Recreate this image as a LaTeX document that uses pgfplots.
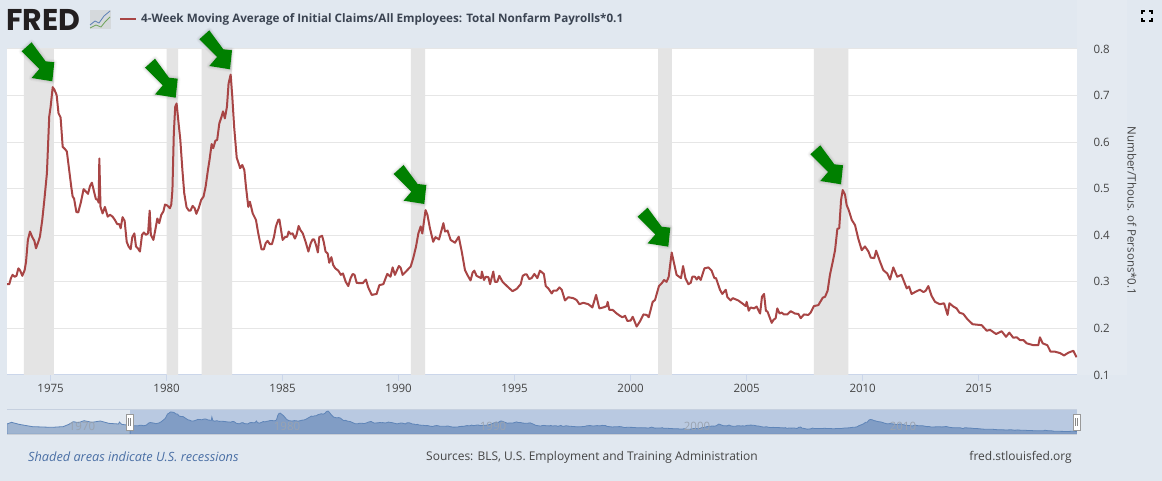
\documentclass[border=0pt]{standalone}
\usepackage{pgfplots}
\usepackage{pgfplotstable}
\usepackage{fontspec}
\pgfplotsset{compat=1.18}
\setmainfont{Open Sans}
\newfontfamily\logofont{Poppins}
\definecolor{bgc}{HTML}{E1E8F0}
\definecolor{txt}{HTML}{444444}
\definecolor{ln}{HTML}{A84545}
\definecolor{axc}{HTML}{CBD6EA}
\definecolor{rec}{HTML}{E4E4E4}
\definecolor{gridc}{HTML}{E6E6E6}
\definecolor{navsel}{HTML}{B9C9E1}
\definecolor{navpre}{HTML}{9FB4D0}
\definecolor{navmain}{HTML}{819DC5}
\definecolor{navln}{HTML}{5F85B8}
\definecolor{navtxt}{HTML}{9AA3B0}
\definecolor{navtop}{HTML}{C6D0DF}
\definecolor{navbot}{HTML}{C9CED6}
\definecolor{hbord}{HTML}{999999}
\definecolor{hgrip}{HTML}{888888}
\definecolor{arrowg}{HTML}{008000}
\definecolor{logo}{HTML}{231F20}
\definecolor{iconbg}{HTML}{D5D9DC}
\definecolor{iconb}{HTML}{5B7FB5}
\definecolor{icong}{HTML}{6FA35A}
\definecolor{titlec}{HTML}{3B4452}
\definecolor{notec}{HTML}{4A6FA5}
\pgfplotstableread{
yr v
1973.13 .295
1973.22 .295
1973.29 .308
1973.36 .315
1973.45 .311
1973.53 .313
1973.61 .329
1973.68 .325
1973.78 .313
1973.88 .325
1973.94 .343
1974.02 .390
1974.11 .408
1974.21 .396
1974.30 .388
1974.37 .372
1974.47 .386
1974.54 .397
1974.64 .433
1974.73 .476
1974.84 .533
1974.94 .655
1975.00 .676
1975.09 .718
1975.16 .713
1975.26 .701
1975.34 .662
1975.43 .653
1975.52 .590
1975.62 .585
1975.70 .580
1975.80 .540
1975.89 .504
1975.95 .483
1976.01 .479
1976.11 .450
1976.19 .449
1976.31 .472
1976.42 .499
1976.52 .494
1976.61 .489
1976.70 .506
1976.78 .513
1976.87 .494
1976.95 .478
1977.03 .476
1977.07 .470
1977.10 .565
1977.15 .461
1977.24 .447
1977.34 .461
1977.46 .440
1977.56 .444
1977.67 .440
1977.77 .433
1977.87 .424
1977.96 .424
1978.02 .415
1978.10 .439
1978.19 .431
1978.28 .386
1978.36 .376
1978.45 .370
1978.52 .396
1978.61 .404
1978.68 .376
1978.76 .372
1978.85 .365
1978.94 .401
1979.02 .406
1979.11 .401
1979.20 .404
1979.27 .453
1979.32 .401
1979.43 .390
1979.51 .411
1979.60 .436
1979.68 .426
1979.77 .444
1979.86 .451
1979.93 .466
1980.03 .464
1980.14 .458
1980.20 .466
1980.25 .497
1980.31 .619
1980.37 .676
1980.43 .683
1980.50 .648
1980.59 .605
1980.68 .540
1980.76 .490
1980.86 .460
1980.96 .453
1981.03 .453
1981.12 .463
1981.21 .458
1981.28 .446
1981.38 .458
1981.49 .476
1981.59 .483
1981.68 .504
1981.78 .540
1981.85 .562
1981.94 .596
1982.01 .587
1982.10 .603
1982.18 .605
1982.27 .640
1982.37 .655
1982.43 .666
1982.51 .651
1982.60 .676
1982.67 .726
1982.76 .745
1982.83 .698
1982.91 .633
1983.02 .567
1983.10 .555
1983.17 .544
1983.26 .551
1983.35 .540
1983.42 .504
1983.52 .461
1983.59 .472
1983.71 .447
1983.85 .433
1983.95 .404
1984.09 .370
1984.19 .370
1984.27 .383
1984.35 .388
1984.45 .381
1984.54 .381
1984.63 .397
1984.71 .419
1984.81 .433
1984.86 .434
1985.00 .390
1985.10 .396
1985.20 .397
1985.26 .408
1985.34 .403
1985.43 .404
1985.53 .393
1985.60 .401
1985.69 .420
1985.77 .411
1985.87 .404
1985.99 .386
1986.11 .365
1986.21 .383
1986.29 .391
1986.36 .391
1986.44 .379
1986.52 .363
1986.58 .396
1986.70 .399
1986.77 .386
1986.85 .365
1986.94 .361
1987.01 .341
1987.10 .353
1987.18 .336
1987.27 .329
1987.40 .324
1987.51 .315
1987.60 .318
1987.72 .300
1987.83 .291
1987.93 .308
1988.02 .317
1988.10 .315
1988.19 .298
1988.33 .297
1988.45 .297
1988.59 .305
1988.69 .288
1988.84 .272
1989.05 .274
1989.17 .293
1989.34 .295
1989.51 .317
1989.65 .311
1989.74 .331
1989.84 .315
1990.01 .334
1990.09 .330
1990.17 .315
1990.35 .324
1990.52 .333
1990.63 .351
1990.75 .376
1990.85 .404
1990.95 .419
1991.02 .404
1991.16 .454
1991.24 .444
1991.35 .415
1991.49 .386
1991.59 .396
1991.74 .391
1991.85 .411
1991.93 .426
1992.00 .408
1992.11 .410
1992.24 .390
1992.43 .384
1992.59 .397
1992.72 .365
1992.86 .325
1992.96 .315
1993.10 .303
1993.19 .320
1993.26 .324
1993.36 .313
1993.55 .308
1993.59 .322
1993.68 .304
1993.76 .311
1993.87 .310
1993.94 .295
1994.08 .322
1994.15 .300
1994.25 .300
1994.34 .313
1994.48 .300
1994.73 .288
1994.91 .280
1995.09 .285
1995.26 .295
1995.35 .313
1995.45 .316
1995.52 .316
1995.63 .306
1995.73 .308
1995.85 .317
1995.98 .308
1996.09 .324
1996.26 .317
1996.34 .291
1996.45 .286
1996.60 .275
1996.67 .281
1996.81 .281
1996.93 .288
1997.03 .283
1997.17 .260
1997.31 .267
1997.53 .265
1997.67 .261
1997.79 .252
1997.96 .255
1998.18 .252
1998.35 .245
1998.51 .272
1998.65 .243
1998.82 .245
1998.97 .248
1999.01 .257
1999.08 .240
1999.22 .240
1999.40 .232
1999.54 .227
1999.64 .224
1999.76 .227
1999.86 .216
2000.00 .217
2000.09 .225
2000.26 .204
2000.40 .215
2000.55 .230
2000.69 .229
2000.78 .224
2000.95 .257
2001.05 .261
2001.22 .291
2001.34 .297
2001.44 .304
2001.55 .300
2001.64 .311
2001.77 .363
2001.87 .340
2001.98 .315
2002.17 .308
2002.26 .334
2002.36 .308
2002.49 .295
2002.59 .298
2002.66 .311
2002.77 .311
2002.85 .305
2002.93 .311
2003.02 .304
2003.18 .329
2003.35 .331
2003.49 .324
2003.61 .308
2003.68 .308
2003.85 .283
2003.95 .274
2004.10 .283
2004.17 .267
2004.31 .260
2004.40 .265
2004.64 .260
2004.86 .252
2004.96 .248
2005.00 .257
2005.09 .238
2005.17 .245
2005.32 .243
2005.43 .247
2005.58 .232
2005.66 .268
2005.75 .274
2005.83 .238
2005.90 .236
2006.08 .212
2006.15 .218
2006.25 .222
2006.32 .243
2006.42 .232
2006.51 .234
2006.61 .230
2006.75 .230
2006.90 .237
2007.08 .232
2007.23 .231
2007.33 .222
2007.47 .230
2007.66 .229
2007.76 .234
2007.90 .248
2008.09 .250
2008.28 .266
2008.38 .268
2008.49 .281
2008.59 .315
2008.71 .343
2008.81 .368
2008.91 .414
2008.99 .415
2009.07 .476
2009.14 .497
2009.24 .487
2009.31 .465
2009.40 .454
2009.53 .433
2009.67 .422
2009.81 .393
2009.96 .368
2010.10 .376
2010.25 .365
2010.35 .352
2010.50 .351
2010.58 .367
2010.75 .343
2010.89 .325
2011.06 .318
2011.18 .305
2011.32 .331
2011.49 .311
2011.67 .315
2011.90 .286
2012.00 .290
2012.11 .274
2012.33 .280
2012.47 .283
2012.62 .278
2012.72 .281
2012.83 .291
2012.97 .270
2013.12 .257
2013.33 .252
2013.51 .254
2013.66 .229
2013.74 .254
2013.91 .247
2014.05 .243
2014.17 .234
2014.34 .231
2014.51 .220
2014.74 .209
2015.13 .207
2015.35 .195
2015.49 .197
2015.75 .188
2015.99 .194
2016.18 .182
2016.32 .191
2016.49 .180
2016.64 .181
2016.78 .175
2016.93 .175
2017.07 .168
2017.36 .164
2017.57 .164
2017.64 .181
2017.76 .168
2017.96 .164
2018.10 .150
2018.29 .150
2018.51 .147
2018.68 .142
2018.87 .148
2019.08 .152
2019.22 .138
}\maindata
\pgfplotstableread{
yr v
1967.13 .364
1967.35 .413
1967.72 .354
1968.09 .315
1968.37 .286
1968.84 .276
1969.30 .266
1969.86 .286
1970.14 .354
1970.36 .432
1970.61 .403
1970.88 .462
1971.26 .413
1971.67 .452
1972.09 .383
1972.56 .364
1972.60 .422
1972.71 .354
1973.13 .320
}\predata
% arrow with its tip at px (x, y from the top of the picture)
\newcommand{\greenarrow}[2]{%
  \begin{scope}[shift={(#1,481-#2)},x=1pt,y=1pt]
    \foreach \w/\o in {6/.025,4/.035,2/.05}{
      \draw[black,line width=\w pt,opacity=\o,line join=round]
       (0,0)--(2,19)--(-6.7,20)--(-20.7,39)--(-30.7,30)--(-13,12.3)--(-20.7,3.3)--cycle;}
    \fill[arrowg]
       (0,0)--(2,19)--(-6.7,20)--(-20.7,39)--(-30.7,30)--(-13,12.3)--(-20.7,3.3)--cycle;
  \end{scope}}
\begin{document}
\begin{tikzpicture}[x=1pt,y=1pt]
\useasboundingbox (0,0) rectangle (1162,481);
\fill[bgc] (0,0) rectangle (1162,481);
\fill[white,opacity=.12] (1077,106) rectangle (1127,481);
% main chart
\begin{axis}[
  at={(7pt,106pt)},anchor=south west,scale only axis,width=1070pt,height=326pt,
  xmin=1973.12,xmax=2019.24,ymin=.1,ymax=.8,
  axis background/.style={fill=white},
  axis x line=bottom,axis y line=right,
  axis line style={-},
  x axis line style={draw=axc,line width=1pt},
  y axis line style={draw=none},
  xtick={1975,1980,1985,1990,1995,2000,2005,2010,2015},
  ytick={.1,.2,.3,.4,.5,.6,.7,.8},
  tick align=outside,major tick length=6pt,
  x tick style={draw=axc,line width=1pt},
  y tick style={draw=none},
  ymajorgrids,grid style={draw=gridc,line width=1pt},
  /pgf/number format/assume math mode=true,
  x tick label style={/pgf/number format/1000 sep={},font=\fontsize{11.5}{13}\selectfont,text=txt},
  y tick label style={/pgf/number format/fixed,/pgf/number format/fixed zerofill,/pgf/number format/precision=1,font=\fontsize{11.5}{13}\selectfont,text=txt,xshift=7pt},
]
\addplot[fill=rec,draw=none] coordinates {(1973.85,.1)(1973.85,.8)(1975.14,.8)(1975.14,.1)} \closedcycle;
\addplot[fill=rec,draw=none] coordinates {(1980.0,.1)(1980.0,.8)(1980.50,.8)(1980.50,.1)} \closedcycle;
\addplot[fill=rec,draw=none] coordinates {(1981.51,.1)(1981.51,.8)(1982.82,.8)(1982.82,.1)} \closedcycle;
\addplot[fill=rec,draw=none] coordinates {(1990.53,.1)(1990.53,.8)(1991.14,.8)(1991.14,.1)} \closedcycle;
\addplot[fill=rec,draw=none] coordinates {(2001.18,.1)(2001.18,.8)(2001.78,.8)(2001.78,.1)} \closedcycle;
\addplot[fill=rec,draw=none] coordinates {(2007.90,.1)(2007.90,.8)(2009.38,.8)(2009.38,.1)} \closedcycle;
\addplot[color=ln,line width=2pt,line join=round] table[x=yr,y=v] {\maindata};
\end{axis}
% navigator
\fill[navsel] (130,46.7) rectangle (1077,71.7);
\begin{axis}[
  at={(7pt,46.7pt)},anchor=south west,scale only axis,width=1070pt,height=25pt,
  xmin=1967.13,xmax=2019.2,ymin=.062,ymax=.795,
  hide axis,clip=true,
]
\addplot[fill=navpre,draw=navln,line width=.8pt] table[x=yr,y=v] {\predata} \closedcycle;
\addplot[fill=navmain,draw=navln,line width=.8pt] table[x=yr,y=v] {\maindata} \closedcycle;
\end{axis}
\draw[navtop,line width=1pt] (7,71.7)--(1077,71.7);
\draw[navbot,line width=1pt] (7,46.7)--(1077,46.7);
\foreach \x/\l in {82/1970,287/1980,493/1990,697/2000,903/2010}
  \node[text=navtxt,font=\fontsize{11.5}{13}\selectfont] at (\x,55) {\l};
\foreach \x in {129.5,1076.5}{
  \draw[hbord,fill=white,line width=.8pt] (\x-3.5,51) rectangle (\x+3.5,67);
  \draw[hgrip,line width=.6pt] (\x-1,55)--(\x-1,63) (\x+1,55)--(\x+1,63);}
% arrows
\greenarrow{52.3}{81.3}
\greenarrow{175.7}{97.7}
\greenarrow{230}{69.3}
\greenarrow{424.3}{204}
\greenarrow{668.3}{246.7}
\greenarrow{841}{184.3}
% header
\node[anchor=west,inner sep=0pt,font=\logofont\bfseries\fontsize{30}{31}\selectfont,text=logo] at (6,461.5) {FRED};
\fill[iconbg] (90,452) rectangle (111,471);
\draw[iconb,line width=.8pt] (90,456)--(95,460)--(99,458)--(104,465)--(110,470);
\draw[icong,line width=.8pt] (90,453)--(96,456)--(101,454)--(105,459)--(110,464);
\draw[ln,line width=2pt] (120,461.5)--(136,461.5);
\node[anchor=west,inner sep=0pt,text=titlec,font=\bfseries\fontsize{11.68}{13}\selectfont] at (141,461.5) {4-Week Moving Average of Initial Claims/All Employees: Total Nonfarm Payrolls*0.1};
% y label
\node[rotate=-90,text=txt,font=\fontsize{11.5}{13}\selectfont] at (1132,270) {Number/Thous. of Persons*0.1};
% fullscreen icon
\draw[black,line width=1.2pt]
 (1142,467)--(1142,470)--(1145,470) (1149,470)--(1152,470)--(1152,467)
 (1142,463)--(1142,460)--(1145,460) (1149,460)--(1152,460)--(1152,463);
% footer
\node[anchor=west,inner sep=0pt,text=notec,font=\itshape\fontsize{12.74}{14}\selectfont] at (28,24) {Shaded areas indicate U.S. recessions};
\node[anchor=west,inner sep=0pt,text=txt,font=\fontsize{12}{14}\selectfont] at (426,24) {Sources: BLS, U.S. Employment and Training Administration};
\node[anchor=east,inner sep=0pt,text=txt,font=\fontsize{12}{14}\selectfont] at (1072,24) {fred.stlouisfed.org};
\end{tikzpicture}
\end{document}
